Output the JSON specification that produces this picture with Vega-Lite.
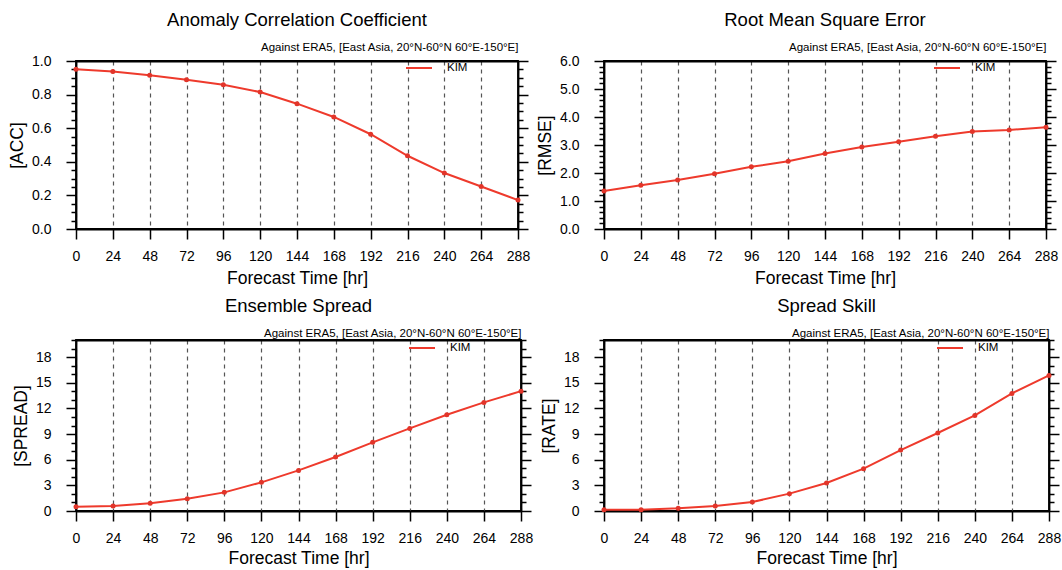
{
  "$schema": "https://vega.github.io/schema/vega-lite/v6.json",
  "padding": {"left": 7, "top": 9, "right": 0, "bottom": 0},
  "background": "white",
  "datasets": {
    "acc": [
      {"t": 0, "v": 0.951, "model": "KIM"}, {"t": 24, "v": 0.937, "model": "KIM"}, {"t": 48, "v": 0.915, "model": "KIM"},
      {"t": 72, "v": 0.889, "model": "KIM"}, {"t": 96, "v": 0.858, "model": "KIM"}, {"t": 120, "v": 0.815, "model": "KIM"},
      {"t": 144, "v": 0.746, "model": "KIM"}, {"t": 168, "v": 0.667, "model": "KIM"}, {"t": 192, "v": 0.564, "model": "KIM"},
      {"t": 216, "v": 0.436, "model": "KIM"}, {"t": 240, "v": 0.333, "model": "KIM"}, {"t": 264, "v": 0.253, "model": "KIM"},
      {"t": 288, "v": 0.172, "model": "KIM"}
    ],
    "rmse": [
      {"t": 0, "v": 1.36, "model": "KIM"}, {"t": 24, "v": 1.56, "model": "KIM"}, {"t": 48, "v": 1.75, "model": "KIM"},
      {"t": 72, "v": 1.97, "model": "KIM"}, {"t": 96, "v": 2.22, "model": "KIM"}, {"t": 120, "v": 2.42, "model": "KIM"},
      {"t": 144, "v": 2.70, "model": "KIM"}, {"t": 168, "v": 2.93, "model": "KIM"}, {"t": 192, "v": 3.12, "model": "KIM"},
      {"t": 216, "v": 3.31, "model": "KIM"}, {"t": 240, "v": 3.48, "model": "KIM"}, {"t": 264, "v": 3.54, "model": "KIM"},
      {"t": 288, "v": 3.63, "model": "KIM"}
    ],
    "spread": [
      {"t": 0, "v": 0.51, "model": "KIM"}, {"t": 24, "v": 0.58, "model": "KIM"}, {"t": 48, "v": 0.90, "model": "KIM"},
      {"t": 72, "v": 1.44, "model": "KIM"}, {"t": 96, "v": 2.18, "model": "KIM"}, {"t": 120, "v": 3.35, "model": "KIM"},
      {"t": 144, "v": 4.75, "model": "KIM"}, {"t": 168, "v": 6.31, "model": "KIM"}, {"t": 192, "v": 8.03, "model": "KIM"},
      {"t": 216, "v": 9.66, "model": "KIM"}, {"t": 240, "v": 11.26, "model": "KIM"}, {"t": 264, "v": 12.70, "model": "KIM"},
      {"t": 288, "v": 14.02, "model": "KIM"}
    ],
    "rate": [
      {"t": 0, "v": 0.16, "model": "KIM"}, {"t": 24, "v": 0.16, "model": "KIM"}, {"t": 48, "v": 0.31, "model": "KIM"},
      {"t": 72, "v": 0.58, "model": "KIM"}, {"t": 96, "v": 1.05, "model": "KIM"}, {"t": 120, "v": 2.03, "model": "KIM"},
      {"t": 144, "v": 3.27, "model": "KIM"}, {"t": 168, "v": 4.95, "model": "KIM"}, {"t": 192, "v": 7.13, "model": "KIM"},
      {"t": 216, "v": 9.12, "model": "KIM"}, {"t": 240, "v": 11.18, "model": "KIM"}, {"t": 264, "v": 13.75, "model": "KIM"},
      {"t": 288, "v": 15.86, "model": "KIM"}
    ]
  },
  "columns": 2,
  "spacing": {"row": 7, "column": 1},
  "resolve": {"scale": {"color": "independent"}, "legend": {"color": "independent"}},
  "concat": [
    {
      "title": {"text": "Anomaly Correlation Coefficient"},
      "width": 442, "height": 168,
      "data": {"name": "acc"},
      "layer": [
        {
          "mark": {"type": "line", "strokeWidth": 2},
          "encoding": {
            "x": {"field": "t", "type": "quantitative", "scale": {"domain": [0, 288], "nice": false},
              "axis": {"orient": "bottom", "values": [0,24,48,72,96,120,144,168,192,216,240,264,288], "title": "Forecast Time [hr]", "grid": true, "gridDash": [4,4], "gridColor": "#555555", "gridWidth": 1.2, "tickSize": 10, "labelFlush": false, "labelPadding": 10, "titlePadding": 6}},
            "y": {"field": "v", "type": "quantitative", "scale": {"domain": [0, 1], "nice": false, "zero": false},
              "axis": {"orient": "left", "title": "[ACC]", "values": [0,0.05,0.1,0.15,0.2,0.25,0.3,0.35,0.4,0.45,0.5,0.55,0.6,0.65,0.7,0.75,0.8,0.85,0.9,0.95,1],
                "labelExpr": "abs(datum.value*5-round(datum.value*5))<0.001 ? format(datum.value,'.1f') : ''",
                "tickSize": {"condition": {"test": "abs(datum.value*5-round(datum.value*5))<0.001", "value": 10}, "value": 5}}},
            "color": {"field": "model", "type": "nominal", "scale": {"range": ["#ee3a2c"]},
              "legend": {"orient": "none", "legendX": 329, "legendY": -7, "title": null, "symbolType": "stroke", "symbolSize": 676, "symbolStrokeWidth": 2, "labelOffset": 14, "padding": 0}}
          }
        },
        {
          "mark": {"type": "point", "filled": true, "size": 25, "color": "#e2352a", "opacity": 1},
          "encoding": {"x": {"field": "t", "type": "quantitative", "axis": null}, "y": {"field": "v", "type": "quantitative", "axis": null}}
        },
        {
          "mark": {"type": "point", "opacity": 0},
          "encoding": {
            "x": {"field": "t", "type": "quantitative", "axis": {"orient": "top", "labels": false, "ticks": false, "title": "Against ERA5, [East Asia, 20°N-60°N 60°E-150°E]", "titleAnchor": "end", "titleFontSize": 11.5, "titlePadding": 9}},
            "y": {"field": "v", "type": "quantitative", "axis": {"orient": "right", "labels": false, "title": null, "values": [0,0.05,0.1,0.15,0.2,0.25,0.3,0.35,0.4,0.45,0.5,0.55,0.6,0.65,0.7,0.75,0.8,0.85,0.9,0.95,1],
              "tickSize": {"condition": {"test": "abs(datum.value*5-round(datum.value*5))<0.001", "value": 10}, "value": 5}}}
          }
        }
      ],
      "resolve": {"axis": {"x": "independent", "y": "independent"}}
    },
    {
      "title": {"text": "Root Mean Square Error"},
      "width": 442, "height": 168,
      "data": {"name": "rmse"},
      "layer": [
        {
          "mark": {"type": "line", "strokeWidth": 2},
          "encoding": {
            "x": {"field": "t", "type": "quantitative", "scale": {"domain": [0, 288], "nice": false},
              "axis": {"orient": "bottom", "values": [0,24,48,72,96,120,144,168,192,216,240,264,288], "title": "Forecast Time [hr]", "grid": true, "gridDash": [4,4], "gridColor": "#555555", "gridWidth": 1.2, "tickSize": 10, "labelFlush": false, "labelPadding": 10, "titlePadding": 6}},
            "y": {"field": "v", "type": "quantitative", "scale": {"domain": [0, 6], "nice": false, "zero": false},
              "axis": {"orient": "left", "title": "[RMSE]", "values": [0,0.2,0.4,0.6,0.8,1,1.2,1.4,1.6,1.8,2,2.2,2.4,2.6,2.8,3,3.2,3.4,3.6,3.8,4,4.2,4.4,4.6,4.8,5,5.2,5.4,5.6,5.8,6],
                "labelExpr": "abs(datum.value-round(datum.value))<0.001 ? format(datum.value,'.1f') : ''",
                "tickSize": {"condition": {"test": "abs(datum.value-round(datum.value))<0.001", "value": 10}, "value": 5}}},
            "color": {"field": "model", "type": "nominal", "scale": {"range": ["#ee3a2c"]},
              "legend": {"orient": "none", "legendX": 329, "legendY": -7, "title": null, "symbolType": "stroke", "symbolSize": 676, "symbolStrokeWidth": 2, "labelOffset": 14, "padding": 0}}
          }
        },
        {
          "mark": {"type": "point", "filled": true, "size": 25, "color": "#e2352a", "opacity": 1},
          "encoding": {"x": {"field": "t", "type": "quantitative", "axis": null}, "y": {"field": "v", "type": "quantitative", "axis": null}}
        },
        {
          "mark": {"type": "point", "opacity": 0},
          "encoding": {
            "x": {"field": "t", "type": "quantitative", "axis": {"orient": "top", "labels": false, "ticks": false, "title": "Against ERA5, [East Asia, 20°N-60°N 60°E-150°E]", "titleAnchor": "end", "titleFontSize": 11.5, "titlePadding": 9}},
            "y": {"field": "v", "type": "quantitative", "axis": {"orient": "right", "labels": false, "title": null, "values": [0,0.2,0.4,0.6,0.8,1,1.2,1.4,1.6,1.8,2,2.2,2.4,2.6,2.8,3,3.2,3.4,3.6,3.8,4,4.2,4.4,4.6,4.8,5,5.2,5.4,5.6,5.8,6],
              "tickSize": {"condition": {"test": "abs(datum.value-round(datum.value))<0.001", "value": 10}, "value": 5}}}
          }
        }
      ],
      "resolve": {"axis": {"x": "independent", "y": "independent"}}
    },
    {
      "title": {"text": "Ensemble Spread"},
      "width": 445, "height": 171,
      "data": {"name": "spread"},
      "layer": [
        {
          "mark": {"type": "line", "strokeWidth": 2},
          "encoding": {
            "x": {"field": "t", "type": "quantitative", "scale": {"domain": [0, 288], "nice": false},
              "axis": {"orient": "bottom", "values": [0,24,48,72,96,120,144,168,192,216,240,264,288], "title": "Forecast Time [hr]", "grid": true, "gridDash": [4,4], "gridColor": "#555555", "gridWidth": 1.2, "tickSize": 10, "labelFlush": false, "labelPadding": 10, "titlePadding": 4}},
            "y": {"field": "v", "type": "quantitative", "scale": {"domain": [0, 20], "nice": false, "zero": false},
              "axis": {"orient": "left", "title": "[SPREAD]", "values": [0,1,2,3,4,5,6,7,8,9,10,11,12,13,14,15,16,17,18,19,20],
                "labelExpr": "datum.value%3==0 && datum.value<=18 ? format(datum.value,'d') : ''",
                "tickSize": {"condition": {"test": "datum.value%3==0 && datum.value<=18", "value": 10}, "value": 5}}},
            "color": {"field": "model", "type": "nominal", "scale": {"range": ["#ee3a2c"]},
              "legend": {"orient": "none", "legendX": 332, "legendY": -6, "title": null, "symbolType": "stroke", "symbolSize": 676, "symbolStrokeWidth": 2, "labelOffset": 14, "padding": 0}}
          }
        },
        {
          "mark": {"type": "point", "filled": true, "size": 25, "color": "#e2352a", "opacity": 1},
          "encoding": {"x": {"field": "t", "type": "quantitative", "axis": null}, "y": {"field": "v", "type": "quantitative", "axis": null}}
        },
        {
          "mark": {"type": "point", "opacity": 0},
          "encoding": {
            "x": {"field": "t", "type": "quantitative", "axis": {"orient": "top", "labels": false, "ticks": false, "title": "Against ERA5, [East Asia, 20°N-60°N 60°E-150°E]", "titleAnchor": "end", "titleFontSize": 11.5, "titlePadding": 2}},
            "y": {"field": "v", "type": "quantitative", "axis": {"orient": "right", "labels": false, "title": null, "values": [0,1,2,3,4,5,6,7,8,9,10,11,12,13,14,15,16,17,18,19,20],
              "tickSize": {"condition": {"test": "datum.value%3==0 && datum.value<=18", "value": 10}, "value": 5}}}
          }
        }
      ],
      "resolve": {"axis": {"x": "independent", "y": "independent"}}
    },
    {
      "title": {"text": "Spread Skill"},
      "width": 445, "height": 171,
      "data": {"name": "rate"},
      "layer": [
        {
          "mark": {"type": "line", "strokeWidth": 2},
          "encoding": {
            "x": {"field": "t", "type": "quantitative", "scale": {"domain": [0, 288], "nice": false},
              "axis": {"orient": "bottom", "values": [0,24,48,72,96,120,144,168,192,216,240,264,288], "title": "Forecast Time [hr]", "grid": true, "gridDash": [4,4], "gridColor": "#555555", "gridWidth": 1.2, "tickSize": 10, "labelFlush": false, "labelPadding": 10, "titlePadding": 4}},
            "y": {"field": "v", "type": "quantitative", "scale": {"domain": [0, 20], "nice": false, "zero": false},
              "axis": {"orient": "left", "title": "[RATE]", "values": [0,1,2,3,4,5,6,7,8,9,10,11,12,13,14,15,16,17,18,19,20],
                "labelExpr": "datum.value%3==0 && datum.value<=18 ? format(datum.value,'d') : ''",
                "tickSize": {"condition": {"test": "datum.value%3==0 && datum.value<=18", "value": 10}, "value": 5}}},
            "color": {"field": "model", "type": "nominal", "scale": {"range": ["#ee3a2c"]},
              "legend": {"orient": "none", "legendX": 332, "legendY": -6, "title": null, "symbolType": "stroke", "symbolSize": 676, "symbolStrokeWidth": 2, "labelOffset": 14, "padding": 0}}
          }
        },
        {
          "mark": {"type": "point", "filled": true, "size": 25, "color": "#e2352a", "opacity": 1},
          "encoding": {"x": {"field": "t", "type": "quantitative", "axis": null}, "y": {"field": "v", "type": "quantitative", "axis": null}}
        },
        {
          "mark": {"type": "point", "opacity": 0},
          "encoding": {
            "x": {"field": "t", "type": "quantitative", "axis": {"orient": "top", "labels": false, "ticks": false, "title": "Against ERA5, [East Asia, 20°N-60°N 60°E-150°E]", "titleAnchor": "end", "titleFontSize": 11.5, "titlePadding": 2}},
            "y": {"field": "v", "type": "quantitative", "axis": {"orient": "right", "labels": false, "title": null, "values": [0,1,2,3,4,5,6,7,8,9,10,11,12,13,14,15,16,17,18,19,20],
              "tickSize": {"condition": {"test": "datum.value%3==0 && datum.value<=18", "value": 10}, "value": 5}}}
          }
        }
      ],
      "resolve": {"axis": {"x": "independent", "y": "independent"}}
    }
  ],
  "config": {
    "font": "Liberation Sans",
    "view": {"stroke": "black", "strokeWidth": 1.8},
    "title": {"font": "Liberation Sans", "fontSize": 18.5, "fontWeight": "normal", "color": "black", "anchor": "middle", "offset": 12},
    "axis": {
      "grid": false,
      "labelFont": "Liberation Sans", "labelFontSize": 14, "labelColor": "black", "labelPadding": 15,
      "titleFont": "Liberation Sans", "titleFontSize": 17.5, "titleFontWeight": "normal", "titleColor": "black", "titlePadding": 5,
      "domainColor": "black", "domainWidth": 1.8, "tickColor": "black", "tickWidth": 1.5
    },
    "legend": {"labelFont": "Liberation Sans", "labelFontSize": 11.5, "labelColor": "black"}
  }
}
